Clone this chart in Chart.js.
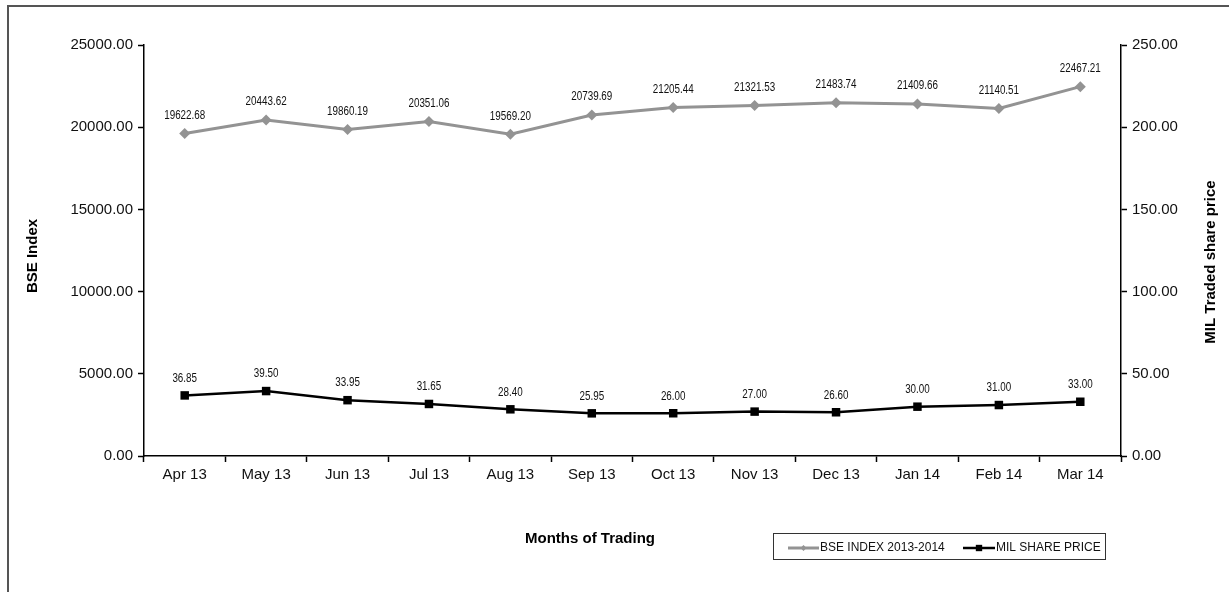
<!DOCTYPE html>
<html lang="en">
<head>
    <meta charset="UTF-8">
    <title>BSE Index vs MIL share price</title>
    <style>
        body {
            margin: 0;
            background: white;
        }
        #graph {
            display: block;
        }
    </style>
    <script src="https://cdn.jsdelivr.net/npm/chart.js@4.4.1/dist/chart.umd.min.js"></script>
</head>
<body>
    <canvas id="graph" width="1229" height="592"></canvas>
    <script>
        // data
        const months = ['Apr 13', 'May 13', 'Jun 13', 'Jul 13', 'Aug 13', 'Sep 13',
                        'Oct 13', 'Nov 13', 'Dec 13', 'Jan 14', 'Feb 14', 'Mar 14'];
        const bseIndex = [19622.68, 20443.62, 19860.19, 20351.06, 19569.20, 20739.69,
                          21205.44, 21321.53, 21483.74, 21409.66, 21140.51, 22467.21];
        const milPrice = [36.85, 39.50, 33.95, 31.65, 28.40, 25.95,
                          26.00, 27.00, 26.60, 30.00, 31.00, 33.00];
        const leftTicks = [0, 5000, 10000, 15000, 20000, 25000];
        const rightTicks = [0, 50, 100, 150, 200, 250];

        const xTitle = 'Months of Trading';
        const leftTitle = 'BSE Index';
        const rightTitle = 'MIL Traded share price';

        const tickFont = {family: "'Liberation Sans', Arial, sans-serif", size: 15};
        const labelFont = "12px 'Liberation Sans', Arial, sans-serif";

        // draws the value labels, the axis titles, the frame and the boxed legend
        const extras = {
            id: 'extras',
            afterDatasetsDraw(chart) {
                const ctx = chart.ctx;
                ctx.save();
                ctx.font = labelFont;
                ctx.fillStyle = '#111';
                ctx.textAlign = 'center';
                ctx.textBaseline = 'middle';
                chart.data.datasets.forEach((ds, d) => {
                    const meta = chart.getDatasetMeta(d);
                    meta.data.forEach((pt, i) => {
                        // squeeze the text sideways, the original uses a narrow face
                        ctx.save();
                        ctx.translate(pt.x, pt.y - (d === 0 ? 18 : 17));
                        ctx.scale(0.82, 1);
                        ctx.fillText(ds.data[i].toFixed(2), 0, 0);
                        ctx.restore();
                    });
                });
                ctx.restore();
            },
            afterDraw(chart) {
                const ctx = chart.ctx;
                ctx.save();
                // outer frame (only top and left edges are inside the picture)
                ctx.strokeStyle = '#555';
                ctx.lineWidth = 2;
                ctx.beginPath();
                ctx.moveTo(8, 600);
                ctx.lineTo(8, 6);
                ctx.lineTo(1240, 6);
                ctx.stroke();

                // axis titles
                ctx.fillStyle = '#000';
                ctx.font = "bold 15px 'Liberation Sans', Arial, sans-serif";
                ctx.textAlign = 'center';
                ctx.textBaseline = 'middle';
                ctx.fillText(xTitle, 590, 539);
                ctx.save();
                ctx.translate(33, 256);
                ctx.rotate(-Math.PI / 2);
                ctx.fillText(leftTitle, 0, 0);
                ctx.restore();
                ctx.save();
                ctx.translate(1211, 262);
                ctx.rotate(-Math.PI / 2);
                ctx.fillText(rightTitle, 0, 0);
                ctx.restore();

                // legend box
                ctx.strokeStyle = '#333';
                ctx.lineWidth = 1;
                ctx.strokeRect(773.5, 533.5, 332, 26);
                ctx.font = "12px 'Liberation Sans', Arial, sans-serif";
                ctx.textAlign = 'left';
                const items = [{x0: 788, x1: 819}, {x0: 963, x1: 995}];
                chart.data.datasets.forEach((ds, d) => {
                    const it = items[d];
                    const y = 548;
                    ctx.strokeStyle = ds.borderColor;
                    ctx.lineWidth = ds.borderWidth;
                    ctx.beginPath();
                    ctx.moveTo(it.x0, y);
                    ctx.lineTo(it.x1, y);
                    ctx.stroke();
                    ctx.fillStyle = ds.pointBackgroundColor;
                    Chart.helpers.drawPoint(ctx, {
                        pointStyle: ds.pointStyle,
                        radius: d === 0 ? 3 : 4.5,
                        borderWidth: 0,
                        rotation: 0
                    }, (it.x0 + it.x1) / 2, y);
                    ctx.fillStyle = '#111';
                    ctx.fillText(ds.label, it.x1 + 1, y);
                });
                ctx.restore();
            }
        };

        const ctx = document.getElementById('graph').getContext('2d');

        const config = {
            type: 'line',
            data: {
                labels: months,
                datasets: [{
                    label: 'BSE INDEX 2013-2014',
                    data: bseIndex,
                    yAxisID: 'yLeft',
                    borderColor: '#939393',
                    backgroundColor: '#939393',
                    pointBackgroundColor: '#939393',
                    pointBorderColor: '#939393',
                    borderWidth: 3,
                    pointStyle: 'rectRot',
                    pointRadius: 5.5,
                    pointBorderWidth: 0,
                    tension: 0
                }, {
                    label: 'MIL SHARE PRICE',
                    data: milPrice,
                    yAxisID: 'yRight',
                    borderColor: '#000',
                    backgroundColor: '#000',
                    pointBackgroundColor: '#000',
                    pointBorderColor: '#000',
                    borderWidth: 2.5,
                    pointStyle: 'rect',
                    pointRadius: 6,
                    pointBorderWidth: 0,
                    tension: 0
                }]
            },
            options: {
                responsive: false,
                animation: false,
                events: [],
                layout: {
                    padding: {top: 45, left: 0, right: 0, bottom: 0}
                },
                plugins: {
                    legend: {display: false},
                    tooltip: {enabled: false}
                },
                scales: {
                    x: {
                        offset: true,
                        grid: {
                            offset: true,
                            drawOnChartArea: false,
                            tickLength: 6,
                            tickWidth: 1.5,
                            color: '#000'
                        },
                        border: {color: '#000', width: 1.5},
                        ticks: {
                            font: tickFont,
                            color: '#111',
                            padding: 4,
                            maxRotation: 0,
                            autoSkip: false
                        },
                        afterFit(scale) {
                            scale.height = 136;
                        }
                    },
                    yLeft: {
                        position: 'left',
                        min: 0,
                        max: 25000,
                        afterBuildTicks(scale) {
                            scale.ticks = leftTicks.map(v => ({value: v}));
                        },
                        grid: {
                            drawOnChartArea: false,
                            tickLength: 6,
                            tickWidth: 1.5,
                            color: '#000'
                        },
                        border: {color: '#000', width: 1.5},
                        ticks: {
                            font: tickFont,
                            color: '#111',
                            padding: 5,
                            callback: v => v.toFixed(2)
                        },
                        afterFit(scale) {
                            scale.width = 144;
                        }
                    },
                    yRight: {
                        position: 'right',
                        min: 0,
                        max: 250,
                        afterBuildTicks(scale) {
                            scale.ticks = rightTicks.map(v => ({value: v}));
                        },
                        grid: {
                            drawOnChartArea: false,
                            tickLength: 6,
                            tickWidth: 1.5,
                            color: '#000'
                        },
                        border: {color: '#000', width: 1.5},
                        ticks: {
                            font: tickFont,
                            color: '#111',
                            padding: 5,
                            callback: v => v.toFixed(2)
                        },
                        afterFit(scale) {
                            scale.width = 108;
                        }
                    }
                }
            },
            plugins: [extras]
        };

        let graph = new Chart(ctx, config);
    </script>
</body>
</html>
